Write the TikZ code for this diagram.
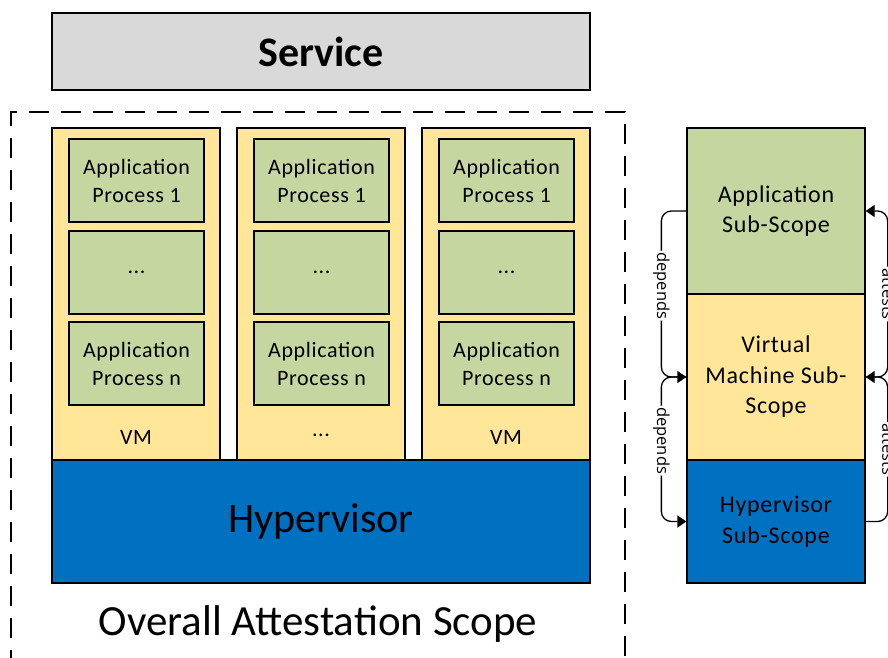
\documentclass[tikz,border=0pt]{standalone}
\usepackage{fontspec}
\setmainfont{Carlito}
\newfontfamily\lsfont[LetterSpace=3]{Carlito}
\newfontfamily\depfont{Open Sans}
\usetikzlibrary{arrows.meta}
\definecolor{appgreen}{HTML}{C5D6A0}
\definecolor{vmyellow}{HTML}{FFE699}
\definecolor{hypblue}{HTML}{0070C0}
\definecolor{svcgray}{HTML}{D9D9D9}
\begin{document}
\begin{tikzpicture}[x=1pt,y=-1pt,
  box/.style={draw=black, line width=1.3pt, inner sep=0pt, anchor=center, align=center},
  svc/.style={box, fill=svcgray, minimum width=538pt, minimum height=77pt, font=\fontsize{42}{48}\selectfont\bfseries},
  vm/.style={box, fill=vmyellow, minimum width=168pt, minimum height=332pt},
  app/.style={box, fill=appgreen, minimum width=135pt, minimum height=83pt, font=\lsfont\fontsize{22}{28}\selectfont},
  hyp/.style={box, fill=hypblue, minimum width=538pt, minimum height=123pt, font=\fontsize{42}{48}\selectfont},
  small/.style={inner sep=0pt, font=\lsfont\fontsize{22}{28}\selectfont},
  sub/.style={box, minimum width=178pt, font=\lsfont\fontsize{24}{30.5}\selectfont},
  frame/.style={draw=black, line width=1.3pt, dash pattern=on 20pt off 12pt},
  conn/.style={line width=1.3pt, rounded corners=10pt, -{Triangle[length=9pt,width=12pt]}},
  deplab/.style={rotate=-90, fill=white, inner sep=1.5pt, font=\depfont\fontsize{16.5}{19}\selectfont}
]
\useasboundingbox (0,0) rectangle (888,657);

% overall attestation frame (continues past the lower edge)
\draw[frame] (11,670) -- (11,112) -- (625,112) -- (625,670);

% service
\node[svc] (service) at (321,51.5) {Service};

% VMs
\node[vm] (vm1) at (136,294) {};
\node[vm] (vm2) at (321,294) {};
\node[vm] (vm3) at (506,294) {};

% application processes
\node[app] (a11) at (136.5,180.5) {Application\\Process 1};
\node[app] (a12) at (136.5,272.5) {...};
\node[app] (a13) at (136.5,363.5) {Application\\Process n};
\node[app] (a21) at (321.5,180.5) {Application\\Process 1};
\node[app] (a22) at (321.5,272.5) {...};
\node[app] (a23) at (321.5,363.5) {Application\\Process n};
\node[app] (a31) at (506.5,180.5) {Application\\Process 1};
\node[app] (a32) at (506.5,272.5) {...};
\node[app] (a33) at (506.5,363.5) {Application\\Process n};

% VM labels
\node[small] (vml1) at (136,437) {VM};
\node[small] (vml2) at (321,435) {...};
\node[small] (vml3) at (506,437) {VM};

% hypervisor
\node[hyp] (hyp) at (321,521.5) {Hypervisor};

% overall label
\node[inner sep=0pt, font=\fontsize{43}{48}\selectfont] (overall) at (318,624) {Overall Attestation Scope};

% sub-scopes
\node[sub, fill=appgreen, minimum height=166pt] (appsub) at (776,211) {Application\\Sub-Scope};
\node[sub, fill=vmyellow, minimum height=166pt] (vmsub) at (776,377) {Virtual\\Machine Sub-\\Scope};
\node[sub, fill=hypblue, minimum height=123pt] (hypsub) at (776,521.5) {Hypervisor\\Sub-Scope};

% depends connectors
\draw[conn] (appsub.west) -- ++(-25,0) -- node[deplab, pos=0.45] {depends} ([xshift=-25pt]vmsub.west) -- (vmsub.west);
\draw[conn] (vmsub.west) -- ++(-25,0) -- node[deplab, pos=0.44] {depends} ([xshift=-25pt]hypsub.west) -- (hypsub.west);

% attests connectors
\draw[conn] (hypsub.east) -- ++(22,0) -- node[deplab, pos=0.5] {attests} ([xshift=22pt]vmsub.east) -- (vmsub.east);
\draw[conn] (vmsub.east) -- ++(22,0) -- node[deplab, pos=0.5] {attests} ([xshift=22pt]appsub.east) -- (appsub.east);
\end{tikzpicture}
\end{document}
